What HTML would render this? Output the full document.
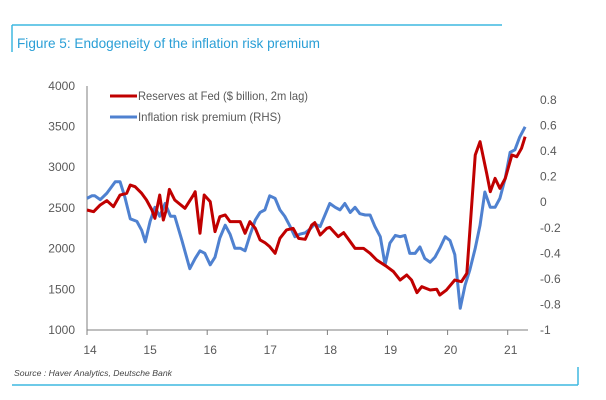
<!DOCTYPE html>
<html><head><meta charset="utf-8"><style>
body{margin:0;background:#fff;}
svg{display:block;font-family:"Liberation Sans",sans-serif;}
</style></head><body>
<svg id="c" width="606" height="400">
<line x1="12" y1="25" x2="502" y2="25" stroke="#3fb8e0" stroke-width="1.5"/>
<line x1="12" y1="25" x2="12" y2="52" stroke="#3fb8e0" stroke-width="1.5"/>
<text x="17" y="48" font-size="14" fill="#2a9fd6" textLength="303" lengthAdjust="spacingAndGlyphs">Figure 5: Endogeneity of the inflation risk premium</text>
<text x="14" y="376" font-size="8" font-style="italic" fill="#444" textLength="158" lengthAdjust="spacingAndGlyphs">Source : Haver Analytics, Deutsche Bank</text>
<line x1="12" y1="385" x2="578" y2="385" stroke="#3fb8e0" stroke-width="1.5"/>
<line x1="578" y1="367" x2="578" y2="385" stroke="#3fb8e0" stroke-width="1.5"/>
<g id="axes"></g>
<g id="series"></g>
<g>
<line x1="110" y1="96" x2="137" y2="96" stroke="#c00000" stroke-width="3"/>
<text x="138" y="100" font-size="12" fill="#595959" textLength="170" lengthAdjust="spacingAndGlyphs">Reserves at Fed ($ billion, 2m lag)</text>
<line x1="110" y1="117" x2="137" y2="117" stroke="#4f81d0" stroke-width="3"/>
<text x="138" y="121" font-size="12" fill="#595959" textLength="143" lengthAdjust="spacingAndGlyphs">Inflation risk premium (RHS)</text>
</g>
</svg>
<script>
const redYears=[14.00,14.11,14.22,14.33,14.44,14.55,14.66,14.72,14.80,14.91,14.99,15.08,15.13,15.21,15.27,15.31,15.37,15.46,15.63,15.77,15.80,15.88,15.95,16.05,16.13,16.21,16.30,16.38,16.55,16.63,16.71,16.80,16.88,16.96,17.04,17.13,17.21,17.32,17.43,17.52,17.63,17.74,17.79,17.88,17.99,18.04,18.18,18.27,18.38,18.46,18.54,18.60,18.71,18.82,18.99,19.10,19.21,19.32,19.40,19.49,19.57,19.71,19.82,19.87,19.98,20.12,20.23,20.32,20.46,20.54,20.65,20.71,20.79,20.87,20.96,21.07,21.15,21.23,21.29];
const redValues=[2474,2454,2536,2589,2515,2658,2679,2781,2761,2679,2597,2474,2372,2658,2351,2454,2728,2597,2495,2658,2699,2188,2658,2577,2208,2392,2413,2331,2331,2188,2331,2249,2106,2073,2024,1942,2126,2229,2249,2126,2114,2290,2319,2167,2249,2261,2147,2196,2085,2003,2003,2003,1942,1860,1778,1717,1614,1676,1614,1459,1532,1491,1500,1430,1491,1614,1594,1696,3150,3314,2925,2699,2863,2740,2863,3150,3129,3232,3375];
const blueYears=[14.00,14.08,14.13,14.22,14.33,14.47,14.55,14.63,14.72,14.83,14.91,14.97,15.05,15.13,15.21,15.30,15.39,15.46,15.58,15.71,15.80,15.88,15.96,16.05,16.13,16.21,16.30,16.38,16.46,16.55,16.63,16.71,16.80,16.88,16.96,17.04,17.13,17.21,17.29,17.38,17.46,17.54,17.63,17.71,17.79,17.88,17.96,18.04,18.13,18.21,18.29,18.38,18.46,18.54,18.63,18.71,18.79,18.88,18.96,19.04,19.13,19.21,19.29,19.37,19.46,19.54,19.62,19.71,19.79,19.87,19.96,20.04,20.12,20.21,20.29,20.37,20.46,20.54,20.62,20.71,20.79,20.87,20.96,21.04,21.12,21.20,21.29];
const blueValues=[0.03,0.05,0.05,0.02,0.07,0.16,0.16,0.04,-0.13,-0.15,-0.22,-0.31,-0.15,-0.04,-0.11,-0.01,-0.11,-0.11,-0.30,-0.52,-0.44,-0.38,-0.40,-0.49,-0.43,-0.28,-0.18,-0.25,-0.36,-0.36,-0.38,-0.26,-0.14,-0.08,-0.06,0.05,0.03,-0.06,-0.11,-0.19,-0.27,-0.25,-0.24,-0.21,-0.17,-0.19,-0.10,-0.01,-0.04,-0.06,-0.01,-0.08,-0.04,-0.09,-0.10,-0.10,-0.19,-0.27,-0.49,-0.32,-0.26,-0.27,-0.26,-0.40,-0.40,-0.35,-0.44,-0.47,-0.43,-0.36,-0.27,-0.30,-0.41,-0.83,-0.65,-0.53,-0.36,-0.18,0.08,-0.04,-0.04,0.03,0.19,0.39,0.41,0.51,0.59];
const leftTicks=[1000,1500,2000,2500,3000,3500,4000];
const rightTicks=[-1,-0.8,-0.6,-0.4,-0.2,0,0.2,0.4,0.6,0.8];
const rightLabels=["-1","-0.8","-0.6","-0.4","-0.2","0","0.2","0.4","0.6","0.8"];
const xTicks=[14,15,16,17,18,19,20,21];

const NS="http://www.w3.org/2000/svg";
const X=y=>87+(y-14)*60.1;
const YL=v=>330-(v-1000)/500*40.7;
const YR=v=>330-(v+1)*127.8;
const axes=document.getElementById('axes'), ser=document.getElementById('series');
function mk(tag,attrs,parent){const e=document.createElementNS(NS,tag);for(const k in attrs)e.setAttribute(k,attrs[k]);parent.appendChild(e);return e;}
let e=mk('line',{x1:87,y1:86,x2:87,y2:330,stroke:'#7f7f7f','stroke-width':1},axes);


e=mk('line',{x1:87,y1:330,x2:528,y2:330,stroke:'#7f7f7f','stroke-width':1},axes);


leftTicks.forEach(v=>{const t=mk('text',{x:75,y:YL(v)+4,'font-size':12,fill:'#595959','text-anchor':'end'},axes);t.textContent=v;

});
rightTicks.forEach((v,i)=>{const t=mk('text',{x:540,y:YR(v)+4,'font-size':12,fill:'#595959'},axes);t.textContent=rightLabels[i];

});
xTicks.forEach(v=>{const l=mk('line',{x1:X(v),y1:330,x2:X(v),y2:335,stroke:'#7f7f7f'},axes);


const t=mk('text',{x:X(v)+3,y:354,'font-size':12,fill:'#595959','text-anchor':'middle'},axes);t.textContent=v;

});
let p=mk('polyline',{points:blueYears.map((y,i)=>X(y)+','+YR(blueValues[i])).join(' '),fill:'none',stroke:'#4f81d0','stroke-width':3,'stroke-linejoin':'round'},ser);


p=mk('polyline',{points:redYears.map((y,i)=>X(y)+','+YL(redValues[i])).join(' '),fill:'none',stroke:'#c00000','stroke-width':3,'stroke-linejoin':'round'},ser);


</script>
</body></html>
